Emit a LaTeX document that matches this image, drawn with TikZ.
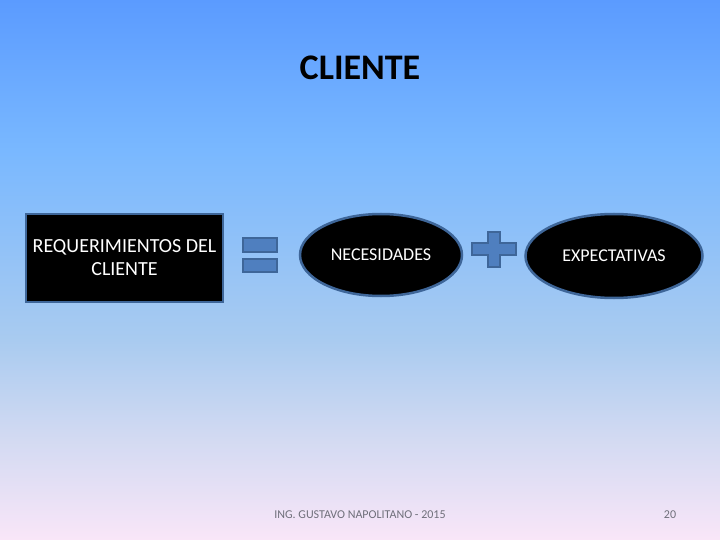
\documentclass[tikz,border=0pt]{standalone}
\usepackage{fontspec}
\setmainfont{Carlito}
\usetikzlibrary{positioning,shapes.geometric}
\definecolor{cedge}{HTML}{3E6699}
\definecolor{csign}{HTML}{4F7FBF}
\definecolor{cfoot}{HTML}{6F6F7A}
\definecolor{bgtop}{HTML}{5B9BFF}
\definecolor{bghigh}{HTML}{79B8FF}
\definecolor{bgmid}{HTML}{A9CBF0}
\definecolor{bglow}{HTML}{D3DAF2}
\definecolor{bgbot}{HTML}{F9E6F8}
\pgfdeclareverticalshading{slidebg}{100bp}{
  color(0bp)=(bgbot); color(25bp)=(bgbot);
  color(34.3bp)=(bglow);
  color(43.5bp)=(bgmid);
  color(61.1bp)=(bghigh);
  color(75bp)=(bgtop); color(100bp)=(bgtop)}

\begin{document}
\begin{tikzpicture}[
    x=1pt, y=-1pt,
    blackbox/.style={draw=cedge, line width=2.5pt, fill=black, text=white, font=\fontsize{20}{23}\selectfont, align=center},
    blackoval/.style={ellipse, draw=cedge, line width=2.5pt, fill=black, text=white, font=\fontsize{18}{20}\selectfont, inner sep=0pt},
    sign/.style={draw=cedge, line width=2pt, fill=csign},
]

% --- background ---
\shade[shading=slidebg] (0,0) rectangle (720,540);
\useasboundingbox (0,0) rectangle (720,540);

% title
\node[font=\bfseries\fontsize{36}{40}\selectfont] (title) at (360,68) {CLIENTE};

% left box
\node[blackbox, minimum width=197pt, minimum height=88pt] (req) at (124.5,258) {REQUERIMIENTOS DEL\\CLIENTE};

% equals sign
\draw[sign] (243,238) rectangle (277,252);
\draw[sign] (243,259) rectangle (277,272);

% first oval
\node[blackoval, minimum width=162pt, minimum height=82pt] (nec) at (381,255) {NECESIDADES};

% plus sign
\draw[sign] (488,232) -- (500,232) -- (500,243) -- (516,243) -- (516,255) -- (500,255)
    -- (500,267) -- (488,267) -- (488,255) -- (472,255) -- (472,243) -- (488,243) -- cycle;

% second oval
\node[blackoval, minimum width=177pt, minimum height=84pt] (exp) at (614,256) {EXPECTATIVAS};

% footer
\node[text=cfoot, font=\fontsize{12}{14}\selectfont] (foot) at (360,515) {ING. GUSTAVO NAPOLITANO - 2015};
\node[text=cfoot, font=\fontsize{12}{14}\selectfont] (page) at (670,515) {20};

\end{tikzpicture}
\end{document}
